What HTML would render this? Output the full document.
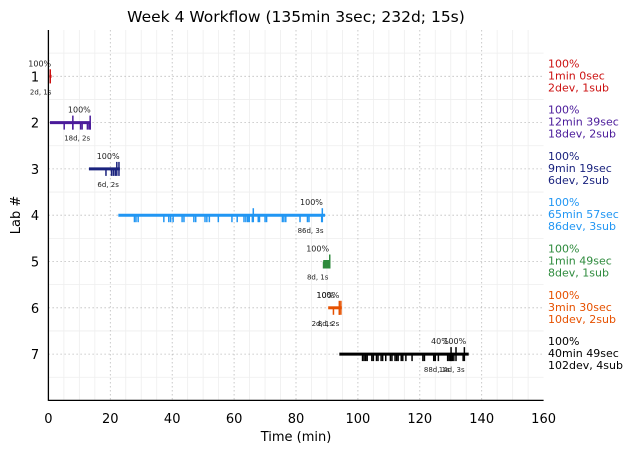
<!DOCTYPE html>
<html><head><meta charset="utf-8"><style>
html,body{margin:0;padding:0;background:#fff;}
svg{display:block;font-family:"DejaVu Sans","Liberation Sans",sans-serif;}
</style></head><body>
<svg id="chart" width="634" height="453" viewBox="0 0 634 453" xmlns="http://www.w3.org/2000/svg">
<text x="296" y="22" text-anchor="middle" font-size="15.5" fill="#000">Week 4 Workflow (135min 3sec; 232d; 15s)</text>
<g id="grid"></g>
<g id="marks"></g>
<g id="axes"></g>
<text x="296" y="441" text-anchor="middle" font-size="13">Time (min)</text>
<text x="20" y="215" text-anchor="middle" font-size="13" transform="rotate(-90 20 215)">Lab #</text>
<g id="legend"></g>
</svg>
<script>
const labs = [1,2,3,4,5,6,7];
const colors = ["#cc1111","#4a1a9a","#1a237e","#2196f3","#2e8b3d","#e65100","#000000"];
const starts = [0.3,0.5,13.1,22.6,88.8,90.4,94.0];
const ends = [1.0,13.5,23.1,89.4,91.0,94.8,135.8];
const devTimes = [
 [0.6],
 [5.1,7.9,10.4,10.9,12.6,13.1,13.5],
 [18.6,20.4,21,21.6],
 [27.8,28.3,29.0,37.3,38.9,39.5,40.3,43.2,43.8,47.0,47.6,50.6,51.2,52.0,54.9,59.3,61.0,63.2,63.8,64.4,64.9,65.9,67.8,68.2,70.0,70.5,75.6,76.1,76.7,81.3,83.7,84.2,88.3],
 [88.9,89.2,89.5,89.8,90.1,90.4,90.6],
 [92.1,94.0],
 [101.5,102,102.5,103,104.5,105,106,106.5,107.5,108,109,110.5,111,112,112.5,113,114,114.5,115.5,117.5,121,121.5,124.5,125,126,129,129.5,130,130.5,131,134]
];
const subTimes = [[0.6],[7.9,13.5],[22.1,22.8],[66.2,88.5],[90.9],[94.0,94.5],[130.1,131.7,134.4]];
const pctLabels = [[["100%",-2.8]],[["100%",10]],[["100%",19.3]],[["100%",85]],[["100%",87]],[["10%",89.5],["100%",90.3]],[["40%",126.5],["100%",131.3]]];
const countLabels = [[["2d, 1s",-2.5]],[["18d, 2s",9.3]],[["6d, 2s",19.3]],[["86d, 3s",84.7]],[["8d, 1s",87]],[["2d, 1s",88.5],["8d, 2s",90.5]],[["88d, 1s",125.5],["14d, 3s",130.3]]];
const legendLines = [["100%","1min 0sec","2dev, 1sub"],["100%","12min 39sec","18dev, 2sub"],["100%","9min 19sec","6dev, 2sub"],["100%","65min 57sec","86dev, 3sub"],["100%","1min 49sec","8dev, 1sub"],["100%","3min 30sec","10dev, 2sub"],["100%","40min 49sec","102dev, 4sub"]];
const xTicks = [0,20,40,60,80,100,120,140,160];

const X0=48.4, X1=543.6, Y0=30, Y1=400.4;
const xs = v => X0 + (v/160)*(X1-X0);
const ys = v => Y0 + (v/8)*(Y1-Y0);
const NS="http://www.w3.org/2000/svg";
function mk(tag, attrs, parent){const e=document.createElementNS(NS,tag);for(const k in attrs)e.setAttribute(k,attrs[k]);parent.appendChild(e);return e;}
const grid=document.getElementById('grid'), marks=document.getElementById('marks'), axes=document.getElementById('axes'), legend=document.getElementById('legend');

for(let v=5; v<160; v+=5){ if(v%20===0) continue;
  const l=mk('line',{x1:xs(v),x2:xs(v),y1:Y0,y2:Y1,stroke:'#eeeeee','stroke-width':0.8},grid);
   }
for(let v=0.5; v<8; v+=1){
  const l=mk('line',{x1:X0,x2:X1,y1:ys(v),y2:ys(v),stroke:'#eeeeee','stroke-width':0.8},grid);
   }
xTicks.forEach(t=>{
  if(t>0&&t<160){const l=mk('line',{x1:xs(t),x2:xs(t),y1:Y0,y2:Y1,stroke:'#bbbbbb','stroke-width':0.8,'stroke-dasharray':'1.5,2.5'},grid);
   }
  const tx=mk('text',{x:xs(t),y:423,'text-anchor':'middle','font-size':13},axes); tx.textContent=t;
   
});
labs.forEach(n=>{
  const l=mk('line',{x1:X0,x2:X1,y1:ys(n),y2:ys(n),stroke:'#bbbbbb','stroke-width':0.8,'stroke-dasharray':'1.5,2.5'},grid);
   
  const tx=mk('text',{x:35,y:ys(n)+5,'text-anchor':'middle','font-size':13},axes); tx.textContent=n;
   
});
const ax1=mk('line',{x1:X0,x2:X0,y1:Y0,y2:Y1+0.5,stroke:'#000','stroke-width':1.3},axes);
 
const ax2=mk('line',{x1:X0,x2:X1,y1:Y1,y2:Y1,stroke:'#000','stroke-width':1.3},axes);
 

labs.forEach((n,i)=>{
  const y=ys(n), c=colors[i];
  const bar=mk('line',{x1:xs(starts[i]),x2:xs(ends[i]),y1:y,y2:y,stroke:c,'stroke-width':3},marks);
   
  devTimes[i].forEach(t=>{const l=mk('line',{x1:xs(t),x2:xs(t),y1:y,y2:y+7,stroke:c,'stroke-width':1.5},marks);
     });
  subTimes[i].forEach(t=>{const l=mk('line',{x1:xs(t),x2:xs(t),y1:y-7,y2:y+7,stroke:c,'stroke-width':1.5},marks);
     });
  pctLabels[i].forEach(p=>{const tx=mk('text',{x:xs(p[1]),y:y-10,'text-anchor':'middle','font-size':8,fill:'#222'},marks); tx.textContent=p[0];
     });
  countLabels[i].forEach(p=>{const tx=mk('text',{x:xs(p[1]),y:y+18,'text-anchor':'middle','font-size':7,fill:'#222'},marks); tx.textContent=p[0];
     });
  legendLines[i].forEach((s,k)=>{const tx=mk('text',{x:548,y:y-9+k*12,'font-size':11,fill:c},legend); tx.textContent=s;
     });
});
</script>
</body></html>
